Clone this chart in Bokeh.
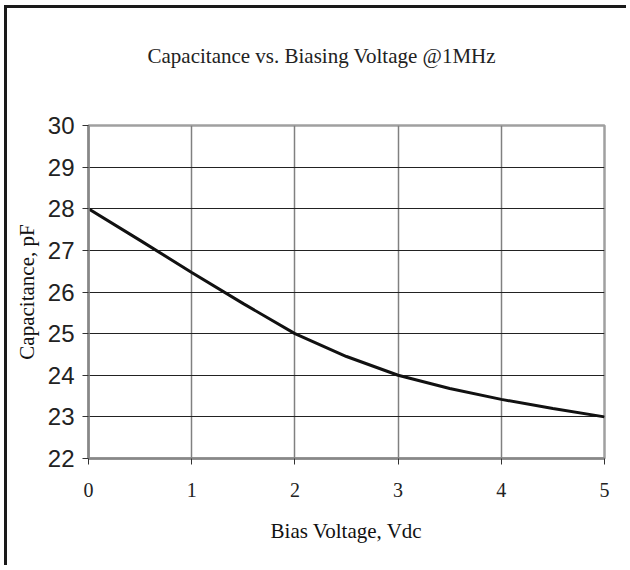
from bokeh.plotting import figure
from bokeh.models import FixedTicker, Title
from bokeh.embed import file_html
from bokeh.resources import INLINE

# Data
bias_voltage = [0, 0.5, 1, 1.5, 2, 2.5, 3, 3.5, 4, 4.5, 5]
capacitance = [28.0, 27.24, 26.47, 25.72, 25.0, 24.45, 24.0, 23.68, 23.42, 23.2, 23.0]

x_ticks = [0, 1, 2, 3, 4, 5]
y_ticks = [22, 23, 24, 25, 26, 27, 28, 29, 30]

title_text = "Capacitance vs. Biasing Voltage @1MHz"
x_label = "Bias Voltage, Vdc"
y_label = "Capacitance, pF"

W, H = 622, 560
p = figure(width=W, height=H, x_range=(0, 5), y_range=(22, 30),
           output_backend="svg", toolbar_location=None,
           min_border_left=81, min_border_right=7 + W - 604,
           min_border_top=117, min_border_bottom=8 + H - 458)
p.styles = {"border-top": "3px solid #1a1a1a", "border-left": "3px solid #1a1a1a",
            "border-right": "0px none", "border-bottom": "0px none",
            "outline": "none", "box-shadow": "none",
            "margin-left": "4px", "margin-top": "5px"}

# title (outer), then a spacer added later which sits between title and frame
p.title = Title(text=title_text, align="left", offset=59,
                text_font="Liberation Serif", text_font_size="21px",
                text_font_style="normal", text_color="#222222", standoff=20)
p.add_layout(Title(text=" ", text_font_size="1px", standoff=45), "above")

p.background_fill_color = "white"
p.border_fill_color = "white"
p.outline_line_color = "#a0a0a0"
p.outline_line_width = 2.5

# axes
p.xaxis.ticker = FixedTicker(ticks=x_ticks)
p.yaxis.ticker = FixedTicker(ticks=y_ticks)
for ax in (p.xaxis[0], p.yaxis[0]):
    ax.axis_line_color = "#888888"
    ax.axis_line_width = 2.5
    ax.major_tick_line_color = "#333333"
    ax.major_tick_line_width = 1
    ax.minor_tick_line_color = None
    ax.major_tick_in = 0
    ax.major_tick_out = 6
    ax.major_label_text_color = "#222222"
    ax.axis_label_text_color = "#111111"
    ax.axis_label_text_font = "Liberation Serif"
    ax.axis_label_text_font_style = "normal"
    ax.axis_label_text_font_size = "21px"

p.xaxis.major_label_text_font = "Liberation Serif"
p.xaxis.major_label_text_font_size = "20px"
p.xaxis.major_label_standoff = 18
p.xaxis.axis_label = x_label
p.xaxis.axis_label_standoff = 19

p.yaxis.major_label_text_font = "Liberation Sans"
p.yaxis.major_label_text_font_size = "24px"
p.yaxis.major_label_standoff = 8
p.yaxis.axis_label = y_label
p.yaxis.axis_label_standoff = 6

# grids
p.xgrid.ticker = FixedTicker(ticks=[1, 2, 3, 4])
p.ygrid.ticker = FixedTicker(ticks=[23, 24, 25, 26, 27, 28, 29])
p.xgrid.grid_line_color = "#808080"
p.xgrid.grid_line_width = 1.5
p.ygrid.grid_line_color = "#222222"
p.ygrid.grid_line_width = 1.2

p.line(bias_voltage, capacitance, line_color="#111111", line_width=3)

open("out.html", "w").write(file_html(p, INLINE))
